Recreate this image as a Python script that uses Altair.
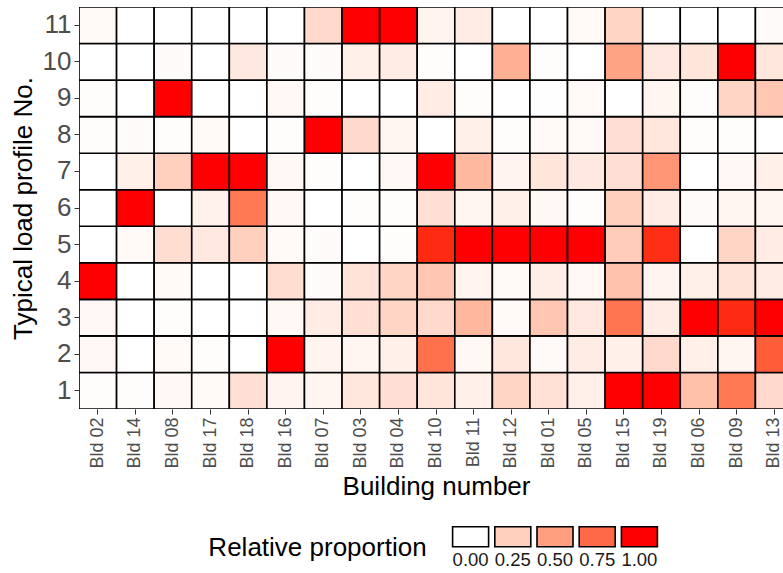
import altair as alt
import pandas as pd

# Buildings along the x axis, in display order
buildings = ["Bld 02", "Bld 14", "Bld 08", "Bld 17", "Bld 18", "Bld 16", "Bld 07",
             "Bld 03", "Bld 04", "Bld 10", "Bld 11", "Bld 12", "Bld 01", "Bld 05",
             "Bld 15", "Bld 19", "Bld 06", "Bld 09", "Bld 13"]

# Relative proportion of each typical load profile per building (one list per profile)
p11 = [0.03, 0.00, 0.00, 0.00, 0.00, 0.00, 0.20, 1.00, 1.00, 0.06, 0.10, 0.00, 0.00, 0.03, 0.22, 0.00, 0.00, 0.00, 0.02]
p10 = [0.00, 0.00, 0.02, 0.00, 0.12, 0.02, 0.02, 0.08, 0.10, 0.01, 0.00, 0.42, 0.01, 0.00, 0.48, 0.12, 0.14, 1.00, 0.13]
p9 = [0.01, 0.00, 1.00, 0.00, 0.00, 0.04, 0.01, 0.00, 0.00, 0.10, 0.01, 0.00, 0.005, 0.03, 0.00, 0.05, 0.01, 0.22, 0.30]
p8 = [0.01, 0.02, 0.01, 0.03, 0.00, 0.01, 1.00, 0.20, 0.05, 0.00, 0.08, 0.01, 0.03, 0.03, 0.17, 0.13, 0.01, 0.01, 0.00]
p7 = [0.00, 0.08, 0.25, 1.00, 1.00, 0.04, 0.01, 0.00, 0.04, 1.00, 0.37, 0.06, 0.14, 0.12, 0.17, 0.55, 0.00, 0.04, 0.08]
p6 = [0.00, 1.00, 0.00, 0.07, 0.68, 0.04, 0.00, 0.01, 0.01, 0.17, 0.05, 0.08, 0.04, 0.01, 0.25, 0.10, 0.02, 0.05, 0.05]
p5 = [0.00, 0.03, 0.18, 0.12, 0.25, 0.03, 0.02, 0.00, 0.01, 0.95, 1.00, 1.00, 1.00, 1.00, 0.27, 0.94, 0.00, 0.22, 0.10]
p4 = [1.00, 0.00, 0.03, 0.00, 0.00, 0.18, 0.02, 0.15, 0.22, 0.30, 0.06, 0.03, 0.09, 0.04, 0.32, 0.06, 0.08, 0.15, 0.10]
p3 = [0.04, 0.00, 0.01, 0.00, 0.00, 0.04, 0.10, 0.17, 0.22, 0.20, 0.38, 0.03, 0.30, 0.12, 0.70, 0.10, 1.00, 0.95, 1.00]
p2 = [0.04, 0.00, 0.03, 0.01, 0.00, 1.00, 0.06, 0.05, 0.08, 0.72, 0.04, 0.13, 0.03, 0.10, 0.08, 0.20, 0.08, 0.05, 0.80]
p1 = [0.01, 0.01, 0.04, 0.03, 0.17, 0.06, 0.05, 0.13, 0.17, 0.14, 0.08, 0.22, 0.16, 0.08, 1.00, 1.00, 0.33, 0.68, 0.20]

profiles = {1: p1, 2: p2, 3: p3, 4: p4, 5: p5, 6: p6, 7: p7, 8: p8, 9: p9, 10: p10, 11: p11}

# Legend keys
legend_values = [0.0, 0.25, 0.5, 0.75, 1.0]
legend_labels = ["0.00", "0.25", "0.50", "0.75", "1.00"]

rows = []
for prof, vals in profiles.items():
    for b, v in zip(buildings, vals):
        rows.append({"building": b, "profile": prof, "value": v})
df = pd.DataFrame(rows)

legend_df = pd.DataFrame({"value": legend_values, "label": legend_labels,
                          "row": ["legend"] * len(legend_values)})
legend_title_df = pd.DataFrame({"label": ["0.00"], "row": ["legend"],
                                "text": ["Relative proportion"]})

FONT = "Liberation Sans"

color_scale = alt.Scale(domain=[0, 1], range=["#FFFFFF", "#FF0000"], interpolate="lab")

heat = alt.Chart(df).mark_rect(stroke="black", strokeWidth=1.6, clip=True).encode(
    x=alt.X("building:N", sort=buildings,
            scale=alt.Scale(domain=buildings, range=[0, 714], paddingInner=0, paddingOuter=0),
            axis=alt.Axis(title="Building number", labelAngle=270, labelFontSize=18,
                          labelColor="#4D4D4D", labelPadding=3, tickSize=5,
                          tickColor="#333333", domain=False, titleFontSize=26,
                          titlePadding=5, titleFontWeight="normal", titleColor="black")),
    y=alt.Y("profile:O", sort="descending",
            scale=alt.Scale(paddingInner=0, paddingOuter=0),
            axis=alt.Axis(title="Typical load profile No.", labelFontSize=26,
                          labelColor="#4D4D4D", labelPadding=3, tickSize=5,
                          tickColor="#333333", domain=False, titleFontSize=26,
                          titlePadding=6, titleFontWeight="normal", titleColor="black")),
    color=alt.Color("value:Q", scale=color_scale, legend=None),
)

# Legend drawn below the plot: five keyed boxes with labels underneath
leg_x = alt.X("label:N", sort=legend_labels,
              scale=alt.Scale(domain=legend_labels, range=[370.5, 581.5],
                              paddingInner=0.147, paddingOuter=0.0735),
              axis=None)
leg_y = alt.Y("row:N", scale=alt.Scale(domain=["legend"], range=[519.7, 539.7],
                                       paddingInner=0, paddingOuter=0),
              axis=None)

leg_boxes = alt.Chart(legend_df).mark_rect(stroke="black", strokeWidth=1.6).encode(
    x=leg_x, y=leg_y,
    color=alt.Color("value:Q", scale=color_scale, legend=None),
)
leg_text = alt.Chart(legend_df).mark_text(
    fontSize=18.5, color="#1A1A1A", baseline="alphabetic", dy=29
).encode(x=leg_x, y=leg_y, text="label:N")
leg_title = alt.Chart(legend_title_df).mark_text(
    fontSize=26, color="black", align="right", baseline="alphabetic", dx=-44, dy=19
).encode(x=leg_x, y=leg_y, text="text:N")

chart = alt.layer(heat, leg_boxes, leg_text, leg_title).resolve_scale(
    x="independent", y="independent"
).properties(
    width=704, height=402,
    autosize=alt.AutoSizeParams(type="none"),
    padding={"left": 79, "top": 7, "right": 0, "bottom": 164},
).configure(font=FONT).configure_view(stroke=None)

chart.save("out.html", embed_options={"renderer": "svg", "actions": False})
